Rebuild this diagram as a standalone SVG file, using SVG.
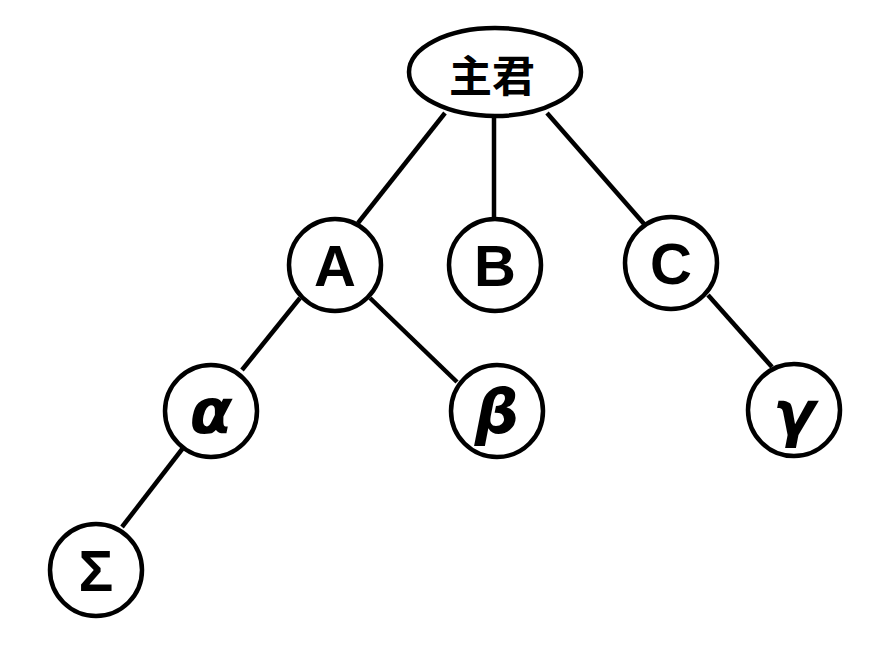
<svg xmlns="http://www.w3.org/2000/svg" width="886" height="669" viewBox="0 0 886 669">
<style>
.n{fill:#fff;stroke:#000;stroke-width:4.5}
.e line{stroke:#000;stroke-width:4.5}
.t{font-family:"Liberation Sans",Arial,sans-serif;font-weight:bold;font-size:58px;text-anchor:middle;dominant-baseline:central;fill:#000}
.g{font-family:"DejaVu Sans","Liberation Sans",sans-serif;font-style:italic;font-size:62px;text-anchor:middle;dominant-baseline:central;fill:#000}
.cjk{font-family:"Noto Sans CJK SC","Noto Sans CJK JP",sans-serif;font-weight:bold;font-size:43px;text-anchor:middle;dominant-baseline:central;fill:#000}
</style>
<rect width="886" height="669" fill="#fff"/>
<g class="e" id="connectors">
<line x1="445" y1="113" x2="358" y2="223"/>
<line x1="494" y1="118" x2="494" y2="220"/>
<line x1="547" y1="113" x2="645" y2="225"/>
<line x1="300" y1="298" x2="242" y2="370"/>
<line x1="370" y1="298" x2="457" y2="382"/>
<line x1="708" y1="295" x2="772" y2="367"/>
<line x1="183" y1="448" x2="122" y2="527"/>
</g>
<g id="root"><ellipse class="n" cx="495" cy="72" rx="86" ry="44"/><text class="cjk" x="492" y="73">主君</text></g>
<g id="A"><circle class="n" cx="335" cy="265" r="46"/><text class="t" x="335" y="265">A</text></g>
<g id="B"><circle class="n" cx="495" cy="265" r="46"/><text class="t" x="495" y="265">B</text></g>
<g id="C"><circle class="n" cx="671" cy="263" r="46"/><text class="t" x="671" y="263">C</text></g>
<g id="alpha"><circle class="n" cx="211" cy="411" r="46"/><text class="g" x="211" y="411" font-weight="bold">α</text></g>
<g id="beta"><circle class="n" cx="497" cy="411" r="46"/><text class="g" x="497" y="411" font-weight="bold">β</text></g>
<g id="gamma"><circle class="n" cx="794" cy="410" r="46"/><text class="g" x="794" y="413" font-weight="bold">γ</text></g>
<g id="sigma"><circle class="n" cx="96" cy="570" r="46"/><text class="t" x="96" y="570">Σ</text></g>
</svg>
